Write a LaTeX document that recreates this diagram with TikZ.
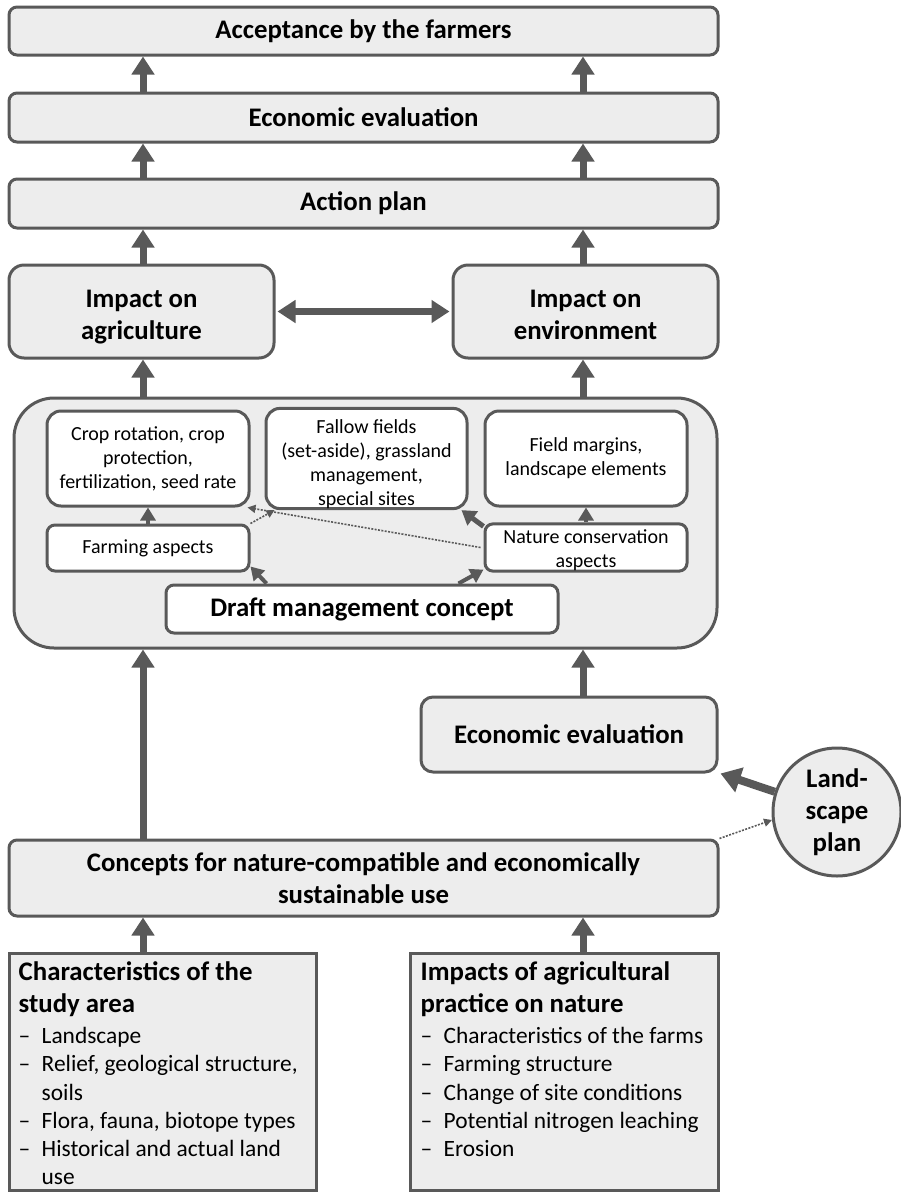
\documentclass[tikz,border=0pt]{standalone}
\usepackage{fontspec}
\setmainfont{Carlito}
\usetikzlibrary{arrows.meta,calc}
\definecolor{boxfill}{RGB}{237,237,237}
\definecolor{edge}{RGB}{89,89,89}
\newcommand\headfont{\fontsize{26.8}{32}\selectfont\bfseries}
\newcommand\listfont{\fontsize{23.4}{28.2}\selectfont\mdseries}
\newcommand\smallfont{\fontsize{20}{24}\selectfont}
% one dash item of a list, with a hanging indent for wrapped lines
\newcommand\itm[1]{\par\hangindent=23pt\hangafter=1\noindent\makebox[23pt][l]{--}#1}
% struts that give two-line headings the same vertical extent
\newcommand\topstrut{\rule{0pt}{30pt}}
\newcommand\botstrut{\rule[-7pt]{0pt}{7pt}}
\begin{document}
\begin{tikzpicture}[x=1pt,y=-1pt,
  greybox/.style={draw=edge,fill=boxfill,line width=3pt,rounded corners=8pt,inner sep=0pt,align=center,font=\headfont},
  whitebox/.style={draw=edge,fill=white,line width=3pt,rounded corners=12pt,inner sep=0pt,align=center,font=\smallfont},
  listbox/.style={draw=edge,fill=boxfill,line width=3pt,inner sep=0pt},
  listtext/.style={anchor=base west,inner sep=0pt},
  arrL/.style={draw=edge,line width=7pt,-{Triangle[width=22pt,length=18pt]}},
  arrM/.style={draw=edge,line width=5pt,-{Triangle[width=17pt,length=14pt]}},
  arrS/.style={draw=edge,line width=4pt,-{Triangle[width=15pt,length=13pt]}},
  dotarrow/.style={draw=edge,line width=1.6pt,dash pattern=on 2pt off 1.4pt,-{Triangle[width=8pt,length=8pt]}}]
\useasboundingbox (0,0) rectangle (901,1192);
\coordinate (colL) at (143,0);
\coordinate (colR) at (583,0);

% upper chain
\node[greybox,minimum width=709pt,minimum height=48pt] (accept) at (363.5,31) {Acceptance by the farmers};
\node[greybox,minimum width=709pt,minimum height=49pt] (econTop) at (363.5,117.5) {Economic evaluation};
\node[greybox,minimum width=709pt,minimum height=49pt] (action) at (363.5,203.5) {Action plan};
\node[greybox,rounded corners=15pt,minimum width=265pt,minimum height=93pt] (impAgr) at (141.5,311.5) {\topstrut Impact on\\agriculture\botstrut};
\node[greybox,rounded corners=15pt,minimum width=265pt,minimum height=93pt] (impEnv) at (585.5,311.5) {\topstrut Impact on\\environment\botstrut};

% management concept block
\node[greybox,rounded corners=40pt,minimum width=703pt,minimum height=250pt] (big) at (365.5,523) {};
\node[whitebox,rounded corners=14pt,minimum width=202pt,minimum height=95pt] (crop) at (148,458.5) {Crop rotation, crop\\protection,\\fertilization, seed rate};
\node[whitebox,rounded corners=14pt,minimum width=201pt,minimum height=95pt] (fallow) at (366.5,458.5) {\rule{0pt}{25pt}Fallow fields\\(set-aside), grassland\\management,\\special sites};
\node[whitebox,rounded corners=14pt,minimum width=202pt,minimum height=95pt] (field) at (586,458.5) {Field margins,\\landscape elements};
\node[whitebox,rounded corners=8pt,minimum width=202pt,minimum height=46pt] (farming) at (148,548) {Farming aspects};
\node[whitebox,rounded corners=8pt,minimum width=202pt,minimum height=47pt] (nature) at (586,547.5) {\rule{0pt}{20pt}Nature conservation\\aspects};
\node[whitebox,rounded corners=8pt,minimum width=392pt,minimum height=48pt,font=\headfont] (draft) at (362,609) {Draft management concept};

% lower part
\node[greybox,rounded corners=12pt,minimum width=296pt,minimum height=75pt] (econLow) at (569,734.5) {Economic evaluation};
\node[draw=edge,fill=boxfill,line width=3pt,circle,minimum size=128pt,inner sep=0pt,align=center,font=\headfont] (plan) at (837,812) {Land-\\scape\\plan};
\node[greybox,minimum width=709pt,minimum height=76pt] (concepts) at (363.5,878) {Concepts for nature-compatible and economically\\sustainable use};

\node[listbox,minimum width=307pt,minimum height=237pt] (charBox) at (162.5,1071.5) {};
\node[listbox,minimum width=308pt,minimum height=237pt] (impBox) at (564,1071.5) {};
\path (charBox.north west) ++(11,29) node[listtext] (charText)
  {\begin{minipage}[t]{300pt}\raggedright
   {\headfont Characteristics of the\\study area\par}\vspace{3pt}
   {\listfont\itm{Landscape}\itm{Relief, geological structure,\break soils}\itm{Flora, fauna, biotope types}\itm{Historical and actual land\break use}\par}
   \end{minipage}};
\path (impBox.north west) ++(12,29) node[listtext] (impText)
  {\begin{minipage}[t]{300pt}\raggedright
   {\headfont Impacts of agricultural\\practice on nature\par}\vspace{3pt}
   {\listfont\itm{Characteristics of the farms}\itm{Farming structure}\itm{Change of site conditions}\itm{Potential nitrogen leaching}\itm{Erosion}\par}
   \end{minipage}};

% connectors of the upper chain
\draw[arrL] (econTop.north -| colL) -- (accept.south -| colL);
\draw[arrL] (econTop.north -| colR) -- (accept.south -| colR);
\draw[arrL] (action.north -| colL) -- (econTop.south -| colL);
\draw[arrL] (action.north -| colR) -- (econTop.south -| colR);
\draw[arrL] (impAgr.north -| colL) -- (action.south -| colL);
\draw[arrL] (impEnv.north -| colR) -- (action.south -| colR);
\draw[draw=edge,line width=7pt,{Triangle[width=22pt,length=18pt]}-{Triangle[width=22pt,length=18pt]}] ([xshift=2pt]impAgr.east) -- ([xshift=-2pt]impEnv.west);
\draw[arrL] (big.north -| colL) -- (impAgr.south -| colL);
\draw[arrL] (big.north -| colR) -- (impEnv.south -| colR);

% connectors inside the block
\draw[arrS] (farming.north) -- (crop.south);
\draw[arrS] (nature.north) -- (field.south);
\draw[arrS] ([xshift=102pt]draft.north west) -- ([yshift=6pt]farming.south east);
\draw[arrS] ([xshift=-101pt]draft.north east) -- ([yshift=3pt]nature.south west);
\draw[arrM] ([yshift=-4pt]nature.north west) -- ([xshift=-7pt]fallow.south east);
\draw[dotarrow] ([xshift=-3pt]nature.west) -- ([xshift=-3pt]crop.south east);
\draw[dotarrow] (farming.north east) -- ([xshift=10pt]fallow.south west);

% connectors of the lower part
\draw[arrL] (concepts.north -| colL) -- (big.south -| colL);
\draw[arrL] (econLow.north -| colR) -- (big.south -| colR);
\draw[draw=edge,line width=8pt,-{Triangle[width=25pt,length=20pt]}] (plan.162) -- ([xshift=2pt]econLow.south east);
\draw[dotarrow] (concepts.north east) -- (plan.187);
\draw[arrL] (charBox.north -| colL) -- (concepts.south -| colL);
\draw[arrL] (impBox.north -| colR) -- (concepts.south -| colR);
\end{tikzpicture}
\end{document}
